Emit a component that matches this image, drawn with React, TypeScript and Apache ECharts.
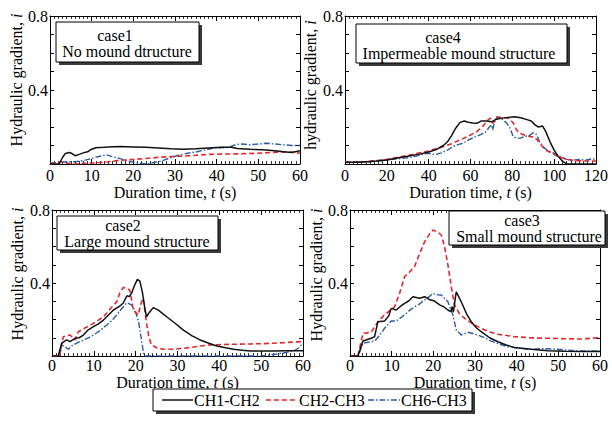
import React, { useEffect, useRef } from "react";
import * as echarts from "echarts";

// ---------- data ----------
const seriesNames = ["CH1-CH2", "CH2-CH3", "CH6-CH3"];
const caseTitles = ["case1", "case4", "case2", "case3"];
const caseSubtitles = [
  "No mound dtructure",
  "Impermeable mound structure",
  "Large mound structure",
  "Small mound structure",
];
const yAxisTitles = ["Hydraulic gradient, {it|i}", "hydraulic gradient, {it|i}", "Hydraulic gradient, {it|i}", "Hydraulic gradient, {it|i}"];
const xAxisTitle = "Duration time, {it|t} (s)";
const yTickLabels = ["0.4", "0.8"];
const xMax = [60, 120, 60, 60];
const xInterval = [10, 20, 10, 10];

type P = [number, number][];

// case1 – No mound structure
const case1_CH1CH2: P = [[0,0],[2.2,0],[3,0.035],[3.6,0.055],[4.5,0.062],[5.2,0.058],[6,0.045],[7,0.052],[8,0.06],[9,0.066],[10,0.08],[11,0.088],[13,0.09],[15,0.093],[17,0.094],[20,0.092],[23,0.09],[26,0.086],[29,0.082],[32,0.08],[35,0.082],[38,0.086],[41,0.09],[43.5,0.091],[45,0.084],[48,0.08],[51,0.077],[54,0.072],[56,0.066],[58,0.062],[60,0.072]];
const case1_CH2CH3: P = [[0,0],[2,0.008],[3,0.012],[4,0.005],[6,0],[8,0.003],[10,0.005],[12,0.008],[14,0.012],[16,0.018],[18,0.022],[20,0.025],[23,0.03],[26,0.036],[29,0.04],[32,0.043],[35,0.047],[38,0.052],[41,0.054],[44,0.054],[47,0.056],[50,0.058],[53,0.062],[56,0.066],[58,0.064],[60,0.058]];
const case1_CH6CH3: P = [[0,0.005],[2,0.008],[4,0.012],[6,0.012],[8,0.018],[10,0.03],[12,0.042],[13.5,0.05],[15,0.04],[17,0.028],[19,0.015],[21,0.006],[23,0],[25,0.008],[27,0.018],[29,0.035],[31,0.048],[33,0.058],[35,0.065],[37,0.075],[39,0.085],[41,0.088],[43,0.09],[44.5,0.105],[46,0.108],[48,0.104],[50,0.108],[52,0.112],[54,0.108],[56,0.104],[58,0.1],[60,0.1]];

// case4 – Impermeable mound structure
const case4_CH1CH2: P = [[0,0.01],[5,0.01],[10,0.012],[15,0.016],[20,0.022],[25,0.032],[30,0.042],[35,0.052],[40,0.065],[44,0.08],[47,0.1],[49,0.12],[51,0.155],[53,0.195],[55,0.225],[57,0.232],[59,0.226],[61,0.222],[63,0.22],[65,0.232],[68,0.232],[70,0.228],[72,0.24],[75,0.248],[78,0.252],[81,0.256],[84,0.25],[87,0.24],[89,0.232],[91,0.21],[92.5,0.2],[94.5,0.205],[96,0.175],[98,0.12],[100,0.075],[102,0.04],[104,0.015],[106,0],[110,0],[120,0]];
const case4_CH2CH3: P = [[0,0.01],[10,0.012],[20,0.025],[30,0.047],[40,0.07],[47,0.094],[51,0.11],[55,0.13],[59,0.15],[63,0.175],[66,0.205],[68.5,0.24],[69.5,0.248],[70.7,0.22],[72,0.24],[73,0.252],[76,0.25],[78.5,0.246],[80.5,0.22],[82,0.185],[83.5,0.166],[86,0.155],[88,0.15],[90,0.145],[92,0.13],[94,0.1],[96,0.075],[99,0.058],[102,0.04],[106,0.025],[110,0.018],[115,0.016],[120,0.016]];
const case4_CH6CH3: P = [[0,0.008],[10,0.01],[20,0.022],[26,0.03],[31,0.035],[35,0.045],[38,0.055],[40.5,0.058],[43,0.05],[46,0.06],[49,0.075],[51.5,0.094],[54,0.105],[56.5,0.112],[59,0.13],[62.5,0.148],[65,0.16],[67.5,0.175],[69,0.2],[70,0.212],[70.6,0.185],[71.5,0.225],[72.6,0.256],[74,0.25],[75.5,0.238],[77,0.225],[78.7,0.2],[80.3,0.15],[82,0.14],[84,0.14],[86,0.15],[88,0.152],[90,0.17],[91.5,0.16],[93,0.12],[95,0.09],[97,0.07],[100,0.058],[103,0.04],[106,0.025],[109,0.02],[112,0.025],[115,0.02],[118,0.028],[120,0.025]];

// case2 – Large mound structure
const case2_CH1CH2: P = [[0,0],[1.5,0],[2.3,0.07],[3.5,0.088],[4.3,0.079],[5.5,0.097],[6.5,0.1],[7.5,0.115],[8.5,0.14],[9.9,0.161],[11,0.175],[12.3,0.197],[13.5,0.225],[14.7,0.252],[16,0.27],[17,0.289],[17.9,0.33],[18.4,0.325],[19,0.343],[19.7,0.385],[20.4,0.42],[21,0.41],[21.6,0.35],[22.2,0.26],[22.6,0.215],[23.3,0.24],[24.2,0.265],[25.5,0.25],[27.4,0.215],[29.5,0.178],[31.4,0.142],[33.5,0.11],[35.4,0.088],[37.5,0.07],[39.4,0.055],[41.5,0.045],[43.4,0.037],[45.5,0.032],[47.4,0.028],[50,0.027],[53,0.027],[56,0.029],[60,0.029]];
const case2_CH2CH3: P = [[0,0],[1.8,0],[2.7,0.106],[4.3,0.115],[5.5,0.088],[6.3,0.133],[8,0.155],[9.9,0.179],[11,0.195],[12.3,0.215],[14,0.26],[15.5,0.298],[16.2,0.345],[17,0.375],[17.8,0.372],[18.6,0.361],[19,0.31],[19.4,0.252],[20.6,0.225],[21.3,0.29],[21.8,0.316],[22.2,0.25],[22.6,0.179],[23.2,0.1],[23.8,0.06],[25,0.045],[26.6,0.037],[29,0.037],[31.4,0.042],[33.5,0.048],[35.4,0.055],[37.5,0.06],[39.4,0.062],[43,0.064],[47.4,0.066],[51,0.068],[55.4,0.073],[59.5,0.079]];
const case2_CH6CH3: P = [[0,0],[1.8,0],[2.3,0.06],[3.1,0.051],[3.9,0.037],[5,0.06],[6.7,0.079],[8.3,0.095],[9.9,0.115],[11.5,0.14],[13.1,0.17],[14.3,0.195],[15.5,0.225],[16.7,0.26],[17.9,0.292],[19.1,0.279],[20,0.24],[20.7,0.188],[21.3,0.1],[21.9,0.015],[22.3,0],[50,0],[52,0.005],[54,0.012],[56,0.02],[58,0.03],[59,0.045],[60,0.07]];

// case3 – Small mound structure
const case3_CH1CH2: P = [[0,0],[1.9,0],[3.1,0.082],[5.1,0.097],[5.9,0.106],[6.7,0.188],[8.3,0.192],[9.3,0.22],[9.9,0.261],[11.1,0.252],[12,0.27],[13.1,0.288],[14,0.3],[15.1,0.325],[16.7,0.316],[17.9,0.325],[19,0.31],[20.3,0.301],[21.5,0.28],[22.5,0.27],[23.5,0.252],[24.2,0.243],[24.5,0.27],[24.8,0.24],[25.5,0.352],[26.7,0.297],[28,0.23],[29.1,0.188],[30.3,0.155],[31.5,0.133],[33.5,0.1],[35.5,0.078],[37.5,0.06],[39.5,0.046],[43.5,0.037],[47.5,0.029],[51.5,0.026],[55.5,0.024],[60,0.024]];
const case3_CH2CH3: P = [[0,0],[1.9,0],[3.1,0.124],[5.1,0.13],[6.7,0.188],[8.3,0.225],[10.7,0.27],[12,0.35],[13.1,0.435],[14.3,0.46],[15.5,0.49],[16.7,0.56],[17.9,0.626],[19,0.665],[19.9,0.69],[21,0.68],[21.9,0.663],[22.7,0.6],[23.5,0.499],[24.3,0.38],[25.1,0.28],[26.3,0.23],[27.5,0.207],[29.5,0.175],[31.5,0.152],[33.5,0.132],[35.5,0.119],[39.5,0.106],[43,0.1],[47.5,0.097],[55.5,0.093],[59.5,0.1]];
const case3_CH6CH3: P = [[0,0],[2,0],[3.1,0.07],[5.9,0.082],[7,0.11],[8.3,0.152],[9.9,0.192],[11.1,0.192],[13.1,0.225],[14.3,0.25],[15.5,0.27],[16.7,0.285],[17.9,0.307],[19,0.325],[19.9,0.343],[21,0.335],[21.9,0.334],[23.5,0.297],[24.7,0.225],[25.5,0.142],[26.7,0.115],[28.3,0.13],[30.7,0.115],[32.3,0.1],[33.9,0.082],[35.9,0.065],[37.9,0.051],[40.5,0.042],[43.5,0.037],[46,0.04],[49.1,0.038],[52,0.032],[55.5,0.027],[60,0.027]];

const panelData: P[][] = [
  [case1_CH1CH2, case1_CH2CH3, case1_CH6CH3],
  [case4_CH1CH2, case4_CH2CH3, case4_CH6CH3],
  [case2_CH1CH2, case2_CH2CH3, case2_CH6CH3],
  [case3_CH1CH2, case3_CH2CH3, case3_CH6CH3],
];

// ---------- styling ----------
const FONT = "'Liberation Serif', 'Times New Roman', Times, 'DejaVu Serif', serif";
const lineStyles = [
  { color: "#111111", width: 1.5, type: "solid" as any, dash: null as any },
  { color: "#e3262b", width: 1.6, type: [5, 3] as any, dash: [5, 3] },
  { color: "#2b5aa8", width: 1.4, type: [6, 2, 1.5, 2] as any, dash: [6, 2, 1.5, 2] },
];

const grids = [
  { left: 50, top: 16, width: 250, height: 148 },
  { left: 345, top: 16, width: 251, height: 148 },
  { left: 52, top: 210, width: 251, height: 146 },
  { left: 350, top: 210, width: 250, height: 146 },
];
const yNamePos = [
  [16, 80],
  [310, 85],
  [17, 274],
  [316, 275],
];
const boxes = [
  { x: 56, y: 22, w: 143, h: 40, t1: [115, 35], t2: [127, 51] },
  { x: 356, y: 24, w: 211, h: 39, t1: [443, 37], t2: [459, 53] },
  { x: 57, y: 216, w: 161, h: 34, t1: [123, 225], t2: [137, 241] },
  { x: 449, y: 211, w: 156, h: 34, t1: [522, 220], t2: [529, 236] },
];
const legendItems = [
  { x1: 162, x2: 193 },
  { x1: 266, x2: 298 },
  { x1: 368, x2: 400 },
];

function textStyle(text: string, rich?: any) {
  const s: any = {
    text,
    fill: "#000",
    fontFamily: FONT,
    fontSize: 16,
    align: "center",
    verticalAlign: "middle",
    textAlign: "center",
    textVerticalAlign: "middle",
  };
  if (rich) s.rich = rich;
  return s;
}

function buildOption() {
  const xAxes: any[] = [];
  const yAxes: any[] = [];
  const series: any[] = [];
  const graphic: any[] = [];
  const axisLine = { show: true, onZero: false, lineStyle: { color: "#000", width: 1 } };
  const italicRich = { it: { fontStyle: "italic", fontFamily: FONT, fontSize: 16, color: "#000", fill: "#000" } };

  grids.forEach((g, i) => {
    const top = i < 2;
    const xCommon = {
      type: "value",
      gridIndex: i,
      min: 0,
      max: xMax[i],
      interval: xInterval[i],
      axisLine,
      axisTick: { show: true, inside: true, length: 5, lineStyle: { color: "#000", width: 1 } },
      minorTick: { show: true, splitNumber: 10, length: 3, lineStyle: { color: "#000", width: 0.8 } },
      splitLine: { show: false },
      minorSplitLine: { show: false },
    };
    xAxes.push({
      ...xCommon,
      position: "bottom",
      axisLabel: { show: true, color: "#000", fontFamily: FONT, fontSize: 16, margin: top ? 3 : 1 },
      name: xAxisTitle,
      nameLocation: "middle",
      nameGap: top ? 20 : 18,
      nameTextStyle: {
        color: "#000",
        fontFamily: FONT,
        fontSize: 16,
        rich: italicRich,
      },
    });
    xAxes.push({ ...xCommon, position: "top", axisLabel: { show: false } });

    const yCommon = {
      type: "value",
      gridIndex: i,
      min: 0,
      max: 0.8,
      interval: 0.1,
      axisLine,
      axisTick: { show: true, inside: true, length: 4, lineStyle: { color: "#000", width: 1 } },
      splitLine: { show: false },
    };
    yAxes.push({
      ...yCommon,
      position: "left",
      axisLabel: {
        show: true,
        color: "#000",
        fontFamily: FONT,
        fontSize: 16,
        margin: 2,
        formatter: (v: number) => {
          const s = v.toFixed(1);
          return yTickLabels.includes(s) ? s : "";
        },
      },
    });
    yAxes.push({ ...yCommon, position: "right", axisLabel: { show: false } });

    panelData[i].forEach((d, k) => {
      series.push({
        type: "line",
        name: seriesNames[k],
        xAxisIndex: i * 2,
        yAxisIndex: i * 2,
        data: d,
        symbol: "none",
        showSymbol: false,
        lineStyle: { color: lineStyles[k].color, width: lineStyles[k].width, type: lineStyles[k].type },
        itemStyle: { color: lineStyles[k].color },
        z: 5 - k,
      });
    });

    // y-axis title
    graphic.push({
      type: "text",
      x: yNamePos[i][0],
      y: yNamePos[i][1],
      rotation: Math.PI / 2,
      z: 50,
      style: textStyle(yAxisTitles[i], italicRich),
    });

    // annotation box
    const b = boxes[i];
    graphic.push({
      type: "rect",
      z: 60,
      shape: { x: b.x + 3, y: b.y + 3, width: b.w, height: b.h },
      style: { fill: "#3a3a3a", stroke: "none" },
    });
    graphic.push({
      type: "rect",
      z: 61,
      shape: { x: b.x, y: b.y, width: b.w, height: b.h },
      style: { fill: "#fff", stroke: "#000", lineWidth: 1 },
    });
    [b.t1, b.t2].forEach((p, j) => {
      graphic.push({
        type: "text",
        z: 62,
        x: p[0],
        y: p[1],
        style: textStyle(j === 0 ? caseTitles[i] : caseSubtitles[i]),
      });
    });
  });

  // legend box (drawn manually)
  graphic.push({
    type: "rect",
    z: 60,
    shape: { x: 156, y: 392, width: 319, height: 22 },
    style: { fill: "#3a3a3a", stroke: "none" },
  });
  graphic.push({
    type: "rect",
    z: 61,
    shape: { x: 153, y: 389, width: 319, height: 22 },
    style: { fill: "#fff", stroke: "#000", lineWidth: 1 },
  });
  legendItems.forEach((it, k) => {
    graphic.push({
      type: "line",
      z: 62,
      shape: { x1: it.x1, y1: 400, x2: it.x2, y2: 400 },
      style: {
        stroke: lineStyles[k].color,
        lineWidth: lineStyles[k].width,
        lineDash: lineStyles[k].dash,
      },
    });
    graphic.push({
      type: "text",
      z: 62,
      x: it.x2 + 1,
      y: 400,
      style: { ...textStyle(seriesNames[k]), align: "left", textAlign: "left" },
    });
  });

  return {
    animation: false,
    backgroundColor: "#ffffff",
    grid: grids.map((g) => ({ ...g, containLabel: false })),
    xAxis: xAxes,
    yAxis: yAxes,
    series,
    graphic: { elements: graphic },
  };
}

export default function App() {
  const ref = useRef<HTMLDivElement>(null);
  useEffect(() => {
    if (!ref.current) return;
    const chart = echarts.init(ref.current, undefined, { renderer: "svg" });
    chart.setOption(buildOption() as any);
    return () => chart.dispose();
  }, []);
  return (
    <div
      ref={ref}
      style={{ position: "fixed", left: 0, top: 0, width: 612, height: 428, background: "#fff" }}
    />
  );
}
